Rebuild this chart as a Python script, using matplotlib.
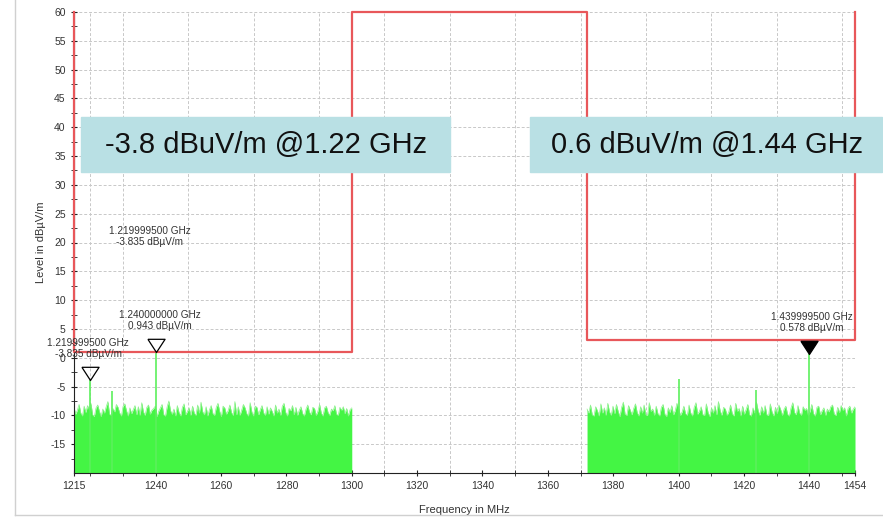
import numpy as np
import matplotlib
matplotlib.use('Agg')
import matplotlib.pyplot as plt
from matplotlib.patches import Rectangle
from matplotlib.lines import Line2D

plt.rcParams['font.family'] = ['Liberation Sans', 'DejaVu Sans']
plt.rcParams['axes.unicode_minus'] = False

# limit line (MHz, dBuV/m)
limit_x = [1215, 1215, 1300, 1300, 1372, 1372, 1454, 1454]
limit_y = [60, 1, 1, 60, 60, 3, 3, 60]

# noise floor envelope (approx. 0.5 MHz steps)
left_noise = [-8.6, -9.8, -9.1, -8.1, -9.6, -10.1, -8.4, -9.5, -8.3, -9.0, -7.9, -9.9, -10.2, -8.7,
              -8.2, -9.3, -10.2, -8.9, -9.6, -8.5, -7.6, -9.8, -10.0, -8.8, -9.4, -8.1, -8.6, -9.6,
              -10.1, -8.4, -8.0, -9.2, -10.1, -8.7, -9.7, -9.0, -8.3, -9.9, -8.5, -10.0, -7.8,
              -9.4, -10.0, -8.6, -8.2, -9.8, -9.1, -8.8, -8.4, -10.2, -9.3, -8.7, -8.1, -9.9,
              -10.1, -8.5, -7.5, -9.2, -9.8, -8.9, -10.1, -8.3, -9.5, -10.1, -8.6, -8.0, -9.9,
              -9.3, -8.7, -10.0, -8.4, -9.6, -10.0, -8.2, -9.6, -7.7, -9.4, -9.9, -8.5, -10.1,
              -9.0, -8.3, -9.7, -10.0, -8.6, -7.9, -9.3, -10.2, -8.4, -8.7, -9.8, -9.2, -8.2,
              -9.5, -10.0, -7.6, -9.9, -8.5, -10.0, -9.1, -8.1, -8.7, -9.7, -10.1, -7.8, -9.4,
              -10.1, -8.4, -8.6, -9.9, -9.0, -8.3, -9.6, -10.0, -8.5, -9.8, -8.7, -9.3, -10.1,
              -8.2, -9.6, -8.9, -10.0, -8.4, -7.9, -9.5, -10.1, -8.8, -9.2, -8.3, -9.9, -8.6,
              -10.0, -9.1, -8.5, -9.7, -10.1, -8.9, -8.2, -9.4, -9.9, -8.6, -8.8, -10.0, -9.3,
              -8.1, -9.6, -10.1, -8.7, -8.4, -9.5, -10.0, -8.9, -9.2, -8.3, -9.8, -10.0, -8.6,
              -9.1, -8.5, -9.7, -8.8, -10.1, -9.0, -8.7]
right_noise = [-8.9, -9.6, -8.2, -9.9, -10.1, -8.5, -9.2, -10.1, -8.0, -9.6, -8.7, -10.0, -7.9, -9.4,
               -10.0, -8.4, -9.7, -8.1, -9.3, -10.2, -8.6, -7.7, -9.8, -10.0, -8.3, -9.1, -9.9,
               -8.8, -8.0, -9.5, -10.1, -8.5, -9.6, -8.2, -9.9, -10.0, -7.8, -9.3, -8.9, -10.0,
               -8.4, -9.7, -10.1, -8.6, -8.1, -9.8, -10.2, -8.7, -9.5, -8.3, -9.9, -9.2, -7.9,
               -8.8, -10.0, -9.4, -8.4, -9.7, -10.0, -8.2, -9.6, -10.1, -8.6, -7.8, -9.8, -9.3,
               -8.5, -9.9, -10.0, -8.0, -9.5, -10.2, -8.7, -9.6, -8.3, -9.9, -7.6, -9.2, -10.0,
               -8.6, -8.9, -10.0, -9.4, -8.2, -9.7, -10.1, -7.9, -9.3, -8.8, -10.1, -8.4, -9.8,
               -9.0, -8.1, -9.9, -10.1, -8.7, -9.6, -7.7, -9.2, -10.0, -8.5, -9.6, -8.3, -9.9,
               -10.0, -8.0, -9.4, -10.1, -8.6, -9.7, -8.2, -9.0, -10.0, -8.9, -8.4, -9.8, -10.1,
               -8.7, -7.8, -9.5, -9.9, -8.3, -9.6, -10.0, -8.5, -9.1, -8.8, -10.0, -9.3, -8.1,
               -9.7, -10.1, -8.6, -8.4, -9.9, -9.2, -8.7, -10.0, -8.9, -9.4, -8.5, -8.2, -9.8,
               -10.0, -8.6, -9.5, -8.3, -9.1, -8.7, -10.1, -8.8, -8.4, -9.6, -8.9, -8.5]
left_band = (1215, 1300)
right_band = (1372, 1454)

# spurs in the trace
spur_f = [1220.0, 1226.6, 1240.0, 1400.0, 1423.6, 1440.0]
spur_lvl = [-3.835, -5.7, 0.943, -3.7, -5.6, 0.578]

# markers
mark_f = [1219.9995, 1240.0, 1439.9995]
mark_lvl = [-3.835, 0.943, 0.578]
mark_filled = [False, False, True]
mark_text = ["1.219999500 GHz\n-3.835 dB\u00b5V/m",
             "1.240000000 GHz\n0.943 dB\u00b5V/m",
             "1.439999500 GHz\n0.578 dB\u00b5V/m"]

xticks = [1215, 1240, 1260, 1280, 1300, 1320, 1340, 1360, 1380, 1400, 1420, 1440, 1454]
yticks = [-15, -10, -5, 0, 5, 10, 15, 20, 25, 30, 35, 40, 45, 50, 55, 60]

green = '#44f544'
red = '#e8575a'
txt = '#333333'

fig = plt.figure(figsize=(8.83, 5.18), dpi=100)
ax = fig.add_axes([74 / 883, 1 - 473 / 518, 781 / 883, 461 / 518])

x_l = np.linspace(left_band[0], left_band[1], len(left_noise))
x_r = np.linspace(right_band[0], right_band[1], len(right_noise))
ax.fill_between(x_l, -20, left_noise, color=green, lw=0, zorder=2)
ax.fill_between(x_r, -20, right_noise, color=green, lw=0, zorder=2)
ax.plot(x_l, left_noise, color='#8cf08c', lw=0.5, zorder=2)
ax.plot(x_r, right_noise, color='#8cf08c', lw=0.5, zorder=2)
ax.vlines(spur_f, -20, spur_lvl, color='#5cf05c', lw=1.2, zorder=2)

ax.plot(limit_x, limit_y, color=red, lw=1.6, zorder=4, clip_on=False)

tri = [(-0.65, 1.0), (0.65, 1.0), (0.0, 0.0), (-0.65, 1.0)]
for f, l, filled in zip(mark_f, mark_lvl, mark_filled):
    ax.plot(f, l, marker=tri, markersize=19, color='black',
            markerfacecolor='black' if filled else 'none', markeredgewidth=0.9, zorder=5)

# marker readouts
ax.text(1238.2, 21.0, mark_text[0], ha='center', va='center', fontsize=7.2, color=txt, linespacing=1.15)
ax.text(1241.3, 6.4, mark_text[1], ha='center', va='center', fontsize=7.2, color=txt, linespacing=1.15)
ax.text(1219.3, 1.6, mark_text[0], ha='center', va='center', fontsize=7.2, color=txt, linespacing=1.15,
        clip_on=False, zorder=6)
ax.text(1440.7, 6.1, mark_text[2], ha='center', va='center', fontsize=7.2, color=txt, linespacing=1.15)

ax.set_xlim(1215, 1454)
ax.set_ylim(-20, 60)
ax.set_xticks(xticks)
ax.set_xticks(np.arange(1220, 1451, 10), minor=True)
ax.set_yticks(yticks)
ax.set_yticks(np.arange(-17.5, 60, 2.5), minor=True)
ax.tick_params(axis='both', which='both', direction='inout', labelsize=7.5, labelcolor=txt, color='#222222')
ax.tick_params(axis='both', which='major', length=5)
ax.tick_params(axis='both', which='minor', length=4)
ax.grid(axis='x', which='minor', ls=(0, (3, 2)), color='#c8c8c8', lw=0.7)
ax.grid(axis='y', which='major', ls=(0, (3, 2)), color='#c8c8c8', lw=0.7)
ax.set_axisbelow(True)
for s in ['top', 'right']:
    ax.spines[s].set_visible(False)
ax.spines['left'].set_color('#222222')
ax.spines['bottom'].set_color('#222222')

ax.set_xlabel('Frequency in MHz', fontsize=8, color=txt, labelpad=10)
ax.set_ylabel('Level in dB\u00b5V/m', fontsize=8, color=txt, labelpad=3)

# summary boxes
box_c = '#b9e0e4'
fig.patches.append(Rectangle((81 / 883, 1 - 172 / 518), 369 / 883, 55 / 518,
                             transform=fig.transFigure, color=box_c, zorder=10))
fig.patches.append(Rectangle((530 / 883, 1 - 172 / 518), 352 / 883, 55 / 518,
                             transform=fig.transFigure, color=box_c, zorder=10))
fig.text(266 / 883, 1 - 145 / 518, '-3.8 dBuV/m @1.22 GHz', ha='center', va='center',
         fontsize=21, color='#111111', zorder=11)
fig.text(707 / 883, 1 - 145 / 518, '0.6 dBuV/m @1.44 GHz', ha='center', va='center',
         fontsize=21, color='#111111', zorder=11)

# screenshot frame
fig.add_artist(Line2D([15 / 883, 15 / 883], [1 - 515 / 518, 1], transform=fig.transFigure,
                      color='#d0d0d0', lw=1))
fig.add_artist(Line2D([15 / 883, 1], [1 - 515 / 518, 1 - 515 / 518], transform=fig.transFigure,
                      color='#d0d0d0', lw=1))

fig.savefig('out.png', dpi=100)
